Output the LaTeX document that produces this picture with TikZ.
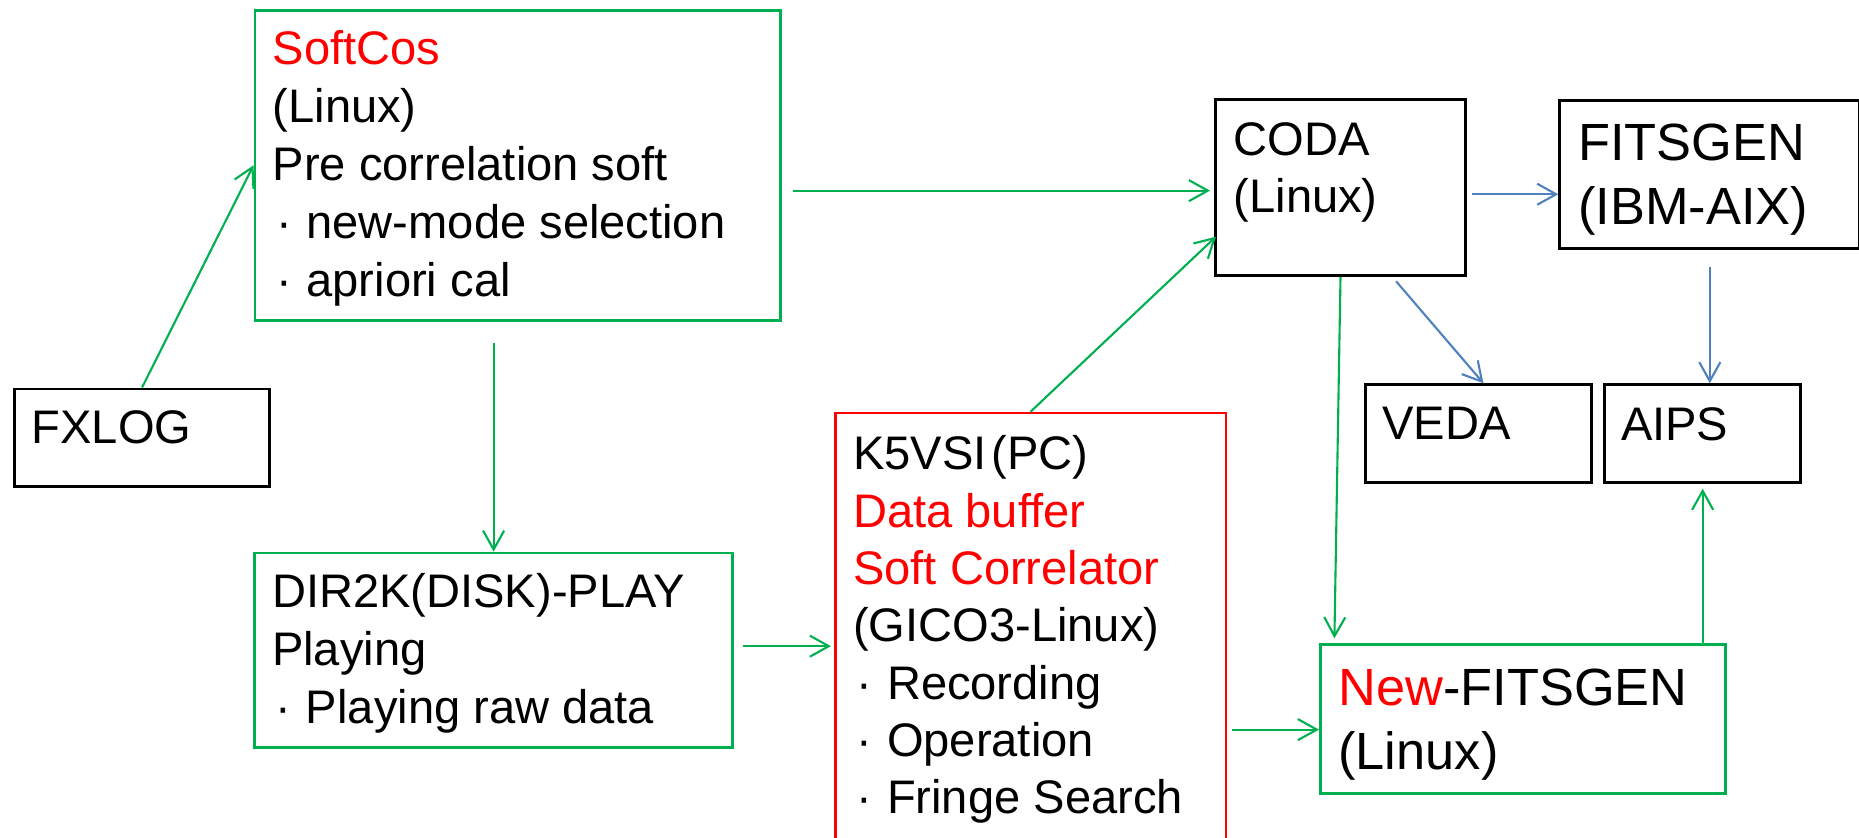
\documentclass[tikz,border=0pt]{standalone}
\usepackage{fontspec}
\setmainfont{Liberation Sans}
\usetikzlibrary{arrows.meta,calc}
\definecolor{ogreen}{HTML}{00B050}
\definecolor{oblue}{HTML}{4F81BD}
\definecolor{ored}{HTML}{FF0000}
\newcommand\fst{\rule{0pt}{0.9em}}
\newcommand\bul{\makebox[0.72em][l]{\hspace{0.07em}·}}
\begin{document}
\begin{tikzpicture}[x=1cm,y=1cm,
  box/.style={draw, line width=0.75pt, inner sep=0pt, anchor=north west},
  gbox/.style={box, draw=ogreen},
  rbox/.style={box, draw=ored},
  kbox/.style={box, draw=black, line width=0.85pt},
  txt/.style={inner sep=0pt, anchor=north west, align=left},
  fa/.style={font=\fontsize{13.4pt}{#1}\selectfont},
  fb/.style={font=\fontsize{14.9pt}{#1}\selectfont},
  garrow/.style={draw=ogreen, line width=0.6pt, -{Straight Barb[length=5.4pt,width=6pt]}},
  barrow/.style={draw=oblue, line width=0.6pt, -{Straight Barb[length=5.4pt,width=6pt]}}]
\useasboundingbox (0,0) rectangle (18.59,-8.37);
\clip (0,0) rectangle (18.59,-8.37);

% boxes
\node[gbox, minimum width=5.255cm, minimum height=3.10cm] (softcos) at (2.535,-0.09) {};
\node[kbox, minimum width=2.555cm, minimum height=0.975cm] (fxlog) at (0.128,-3.875) {};
\node[gbox, minimum width=4.78cm, minimum height=1.943cm] (dir2k) at (2.533,-5.517) {};
\node[rbox, minimum width=3.905cm, minimum height=4.6cm] (k5vsi) at (8.34,-4.117) {};
\node[kbox, minimum width=2.50cm, minimum height=1.757cm] (coda) at (12.14,-0.983) {};
\node[kbox, minimum width=3.00cm, minimum height=1.483cm] (fitsgen) at (15.583,-0.99) {};
\node[kbox, minimum width=2.26cm, minimum height=0.977cm] (veda) at (13.64,-3.833) {};
\node[kbox, minimum width=1.957cm, minimum height=0.974cm] (aips) at (16.033,-3.833) {};
\node[gbox, minimum width=4.053cm, minimum height=1.49cm] (newfits) at (13.19,-6.433) {};

% texts
\node[txt, fa=16.47pt] (softcos-t) at (2.72,-0.216) {\fst\textcolor{ored}{SoftCos}\\(Linux)\\Pre correlation soft\\\bul new-mode selection\\\bul apriori cal};
\node[txt, fa=16.4pt] (fxlog-t) at (0.31,-4.009) {\fst FXLOG};
\node[txt, fa=16.5pt] (dir2k-t) at (2.714,-5.643) {\fst DIR2K(DISK)-PLAY\\Playing\\\bul Playing raw data};
\node[txt, fa=16.31pt] (k5vsi-t) at (8.525,-4.269) {\fst K5VSI\hspace{0.1em}(PC)\\\textcolor{ored}{Data buffer}\\\textcolor{ored}{Soft Correlator}\\(GICO3-Linux)\\\bul Recording\\\bul Operation\\\bul Fringe Search};
\node[txt, fa=16.2pt] (coda-t) at (12.33,-1.126) {\fst CODA\\(Linux)};
\node[txt, fb=18.2pt] (fitsgen-t) at (15.777,-1.129) {\fst FITSGEN\\(IBM-AIX)};
\node[txt, fa=16.4pt] (veda-t) at (13.815,-3.969) {\fst VEDA};
\node[txt, fa=16.4pt] (aips-t) at (16.203,-3.976) {\fst AIPS};
\node[txt, fb=18.2pt] (newfits-t) at (13.377,-6.579) {\fst\textcolor{ored}{New}-FITSGEN\\(Linux)};

% green connectors
\draw[garrow] (fxlog.north) -- (softcos.west);
\draw[garrow] ($(softcos.east |- coda.west)+(0.11,-0.03)$) -- ($(coda.west)+(-0.04,-0.03)$);
\draw[garrow] ($(softcos.south -| dir2k.north)+(0,-0.21)$) -- (dir2k.north);
\draw[garrow] ($(dir2k.east)+(0.09,0.04)$) -- ($(k5vsi.west |- dir2k.east)+(-0.03,0.04)$);
\draw[garrow] (k5vsi.north) -- ($(coda.west)+(0.02,-0.49)$);
\draw[garrow] (coda.south) -- ($(newfits.north west)+(0.154,0.05)$);
\draw[garrow] ($(k5vsi.east |- newfits.west)+(0.05,-0.105)$) -- ($(newfits.west)+(0,-0.105)$);
\draw[garrow] (newfits.north -| aips.south) -- ($(aips.south)+(0,-0.05)$);

% blue connectors
\draw[barrow] ($(coda.east)+(0.05,-0.066)$) coordinate (c9) -- (c9 -| fitsgen.west);
\draw[barrow] ($(coda.south)+(0.556,-0.043)$) -- ($(veda.north)+(0.05,0)$);
\draw[barrow] ($(fitsgen.south)+(0,-0.167)$) coordinate (c11) -- (c11 |- aips.north);
\end{tikzpicture}
\end{document}
